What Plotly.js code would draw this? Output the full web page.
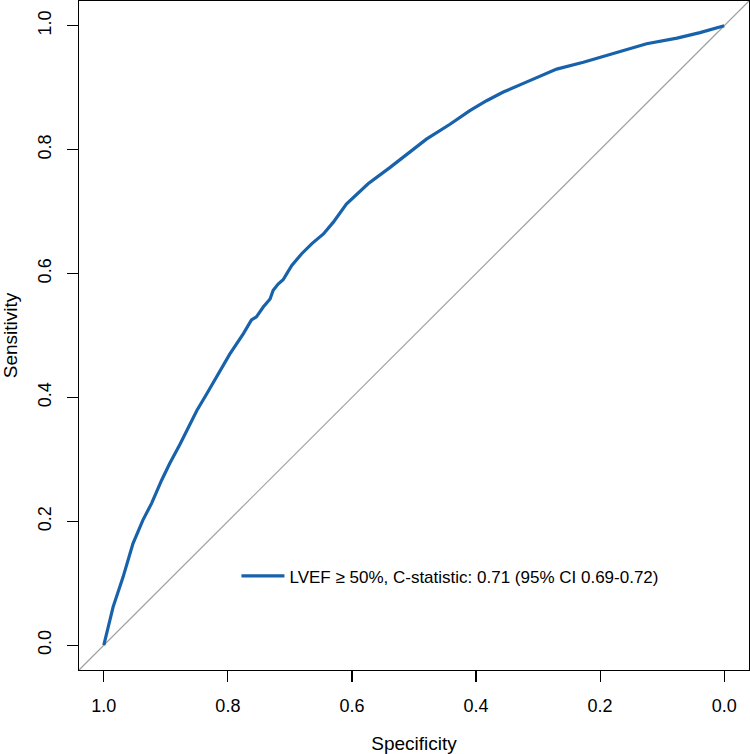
<!DOCTYPE html>
<html>
<head>
<meta charset="utf-8">
<script src="https://cdn.plot.ly/plotly-3.0.1.min.js"></script>
<style>html,body{margin:0;padding:0;background:#fff;}#chart{width:750px;height:754px;}</style>
</head>
<body>
<div id="chart"></div>
<script>
const specificity = [1.0, 0.993, 0.985, 0.969, 0.953, 0.937, 0.923, 0.907, 0.894, 0.877, 0.861, 0.850, 0.834, 0.818, 0.797, 0.775, 0.762, 0.754, 0.743, 0.732, 0.727, 0.719, 0.711, 0.705, 0.697, 0.681, 0.665, 0.646, 0.630, 0.609, 0.574, 0.539, 0.496, 0.480, 0.442, 0.410, 0.383, 0.356, 0.319, 0.270, 0.227, 0.190, 0.125, 0.076, 0.039, 0.0];
const sensitivity = [0.0, 0.030, 0.062, 0.110, 0.164, 0.202, 0.229, 0.266, 0.293, 0.325, 0.358, 0.379, 0.406, 0.433, 0.470, 0.503, 0.525, 0.530, 0.546, 0.559, 0.573, 0.583, 0.590, 0.600, 0.613, 0.632, 0.648, 0.664, 0.683, 0.712, 0.745, 0.771, 0.804, 0.817, 0.841, 0.863, 0.879, 0.893, 0.909, 0.930, 0.941, 0.952, 0.971, 0.980, 0.989, 1.0];
const seriesName = "LVEF \u2265 50%, C-statistic: 0.71 (95% CI 0.69-0.72)";
const tickVals = [0, 0.2, 0.4, 0.6, 0.8, 1.0];
const tickText = ["0.0", "0.2", "0.4", "0.6", "0.8", "1.0"];

const fam = "Liberation Sans, Arial, sans-serif";
const font = {family: fam, size: 18, color: "#000"};
const titleFont = {family: fam, size: 19, color: "#000"};

const trace = {
  x: specificity, y: sensitivity, type: "scatter", mode: "lines",
  name: seriesName,
  line: {color: "#1762aa", width: 3.2},
  showlegend: true
};

const axisCommon = {
  showgrid: false, zeroline: false, showline: true, mirror: true,
  linecolor: "#000", linewidth: 1.2,
  ticks: "outside", ticklen: 11, tickwidth: 1.2, tickcolor: "#000",
  tickvals: tickVals, ticktext: tickText,
  tickfont: font
};

const layout = {
  width: 750, height: 754,
  margin: {l: 79, r: 1, t: 1, b: 84},
  paper_bgcolor: "#fff", plot_bgcolor: "#fff",
  font: font,
  xaxis: Object.assign({}, axisCommon, {
    range: [1.04, -0.04],
    ticklabelstandoff: 8,
    title: {text: "Specificity", font: titleFont, standoff: 22}
  }),
  yaxis: Object.assign({}, axisCommon, {
    range: [-0.04, 1.04],
    tickangle: -90,
    ticklabelstandoff: 9,
    title: {text: "Sensitivity", font: titleFont, standoff: 13}
  }),
  shapes: [{
    type: "line", xref: "paper", yref: "paper",
    x0: 0, y0: 0, x1: 1, y1: 1,
    line: {color: "#a0a0a0", width: 1.2},
    layer: "below"
  }],
  legend: {
    x: 0.235, y: 0.14, xanchor: "left", yanchor: "middle",
    bgcolor: "rgba(0,0,0,0)", borderwidth: 0,
    itemwidth: 43,
    font: {family: fam, size: 17, color: "#000"}
  },
  showlegend: true
};

Plotly.newPlot("chart", [trace], layout, {displayModeBar: false, staticPlot: true});
</script>
</body>
</html>
